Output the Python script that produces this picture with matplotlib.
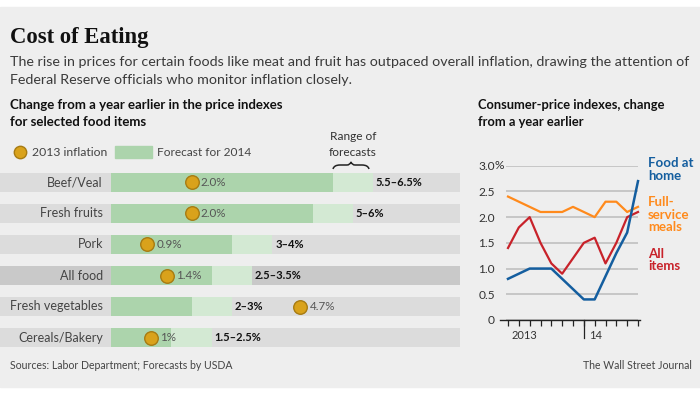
import numpy as np
import matplotlib
matplotlib.use('Agg')
import matplotlib.pyplot as plt
from matplotlib.patches import Rectangle
from matplotlib.path import Path
from matplotlib.patches import PathPatch

plt.rcParams['font.family'] = ['Lato', 'DejaVu Sans']

# left panel data
foods = ['Beef/Veal', 'Fresh fruits', 'Pork', 'All food', 'Fresh vegetables', 'Cereals/Bakery']
inflation_2013 = [2.0, 2.0, 0.9, 1.4, 4.7, 1.0]
inflation_labels = ['2.0%', '2.0%', '0.9%', '1.4%', '4.7%', '1%']
forecast_low = [5.5, 5.0, 3.0, 2.5, 2.0, 1.5]
forecast_high = [6.5, 6.0, 4.0, 3.5, 3.0, 2.5]
range_labels = ['5.5\u20136.5%', '5\u20136%', '3\u20134%', '2.5\u20133.5%', '2\u20133%', '1.5\u20132.5%']

# right panel data, monthly, May 2013 .. May 2014
food_at_home = [0.8, 0.9, 1.0, 1.0, 1.0, 0.8, 0.6, 0.4, 0.4, 0.85, 1.3, 1.7, 2.7]
full_service = [2.4, 2.3, 2.2, 2.1, 2.1, 2.1, 2.2, 2.1, 2.0, 2.3, 2.3, 2.1, 2.2]
all_items = [1.4, 1.8, 2.0, 1.5, 1.1, 0.9, 1.2, 1.5, 1.6, 1.1, 1.5, 2.0, 2.1]
y_ticks = [0, 0.5, 1.0, 1.5, 2.0, 2.5, 3.0]
y_tick_labels = ['0', '0.5', '1.0', '1.5', '2.0', '2.5', '3.0']

W, H = 700, 394
DARK_GREEN = '#acd4ac'
LIGHT_GREEN = '#d3e9d3'
GOLD = '#d9a21b'
GOLD_EDGE = '#a77b12'
BLUE = '#145e9f'
ORANGE = '#ff8a1c'
RED = '#c8222a'


def fx(x):
    return x / W


def fy(y):
    return 1 - y / H


fig = plt.figure(figsize=(7, 3.94), dpi=100)
fig.patch.set_facecolor('white')

# pixel canvas for background and free text
canvas = fig.add_axes([0, 0, 1, 1])
canvas.set_xlim(0, W)
canvas.set_ylim(H, 0)
canvas.axis('off')
canvas.add_patch(Rectangle((0, 7), W, 380, color='#eeeeee', zorder=0))

canvas.text(10, 43, 'Cost of Eating', family='Liberation Serif', weight='bold',
            fontsize=16.3, va='baseline', color='#111111')
canvas.text(10, 66, 'The rise in prices for certain foods like meat and fruit has outpaced overall '
            'inflation, drawing the attention of', fontsize=10.3, va='baseline', color='#3a3a3a')
canvas.text(10, 84, 'Federal Reserve officials who monitor inflation closely.',
            fontsize=10.3, va='baseline', color='#3a3a3a')
canvas.text(10, 109, 'Change from a year earlier in the price indexes', fontsize=9.5,
            weight='bold', va='baseline', color='#111111')
canvas.text(10, 126, 'for selected food items', fontsize=9.5, weight='bold',
            va='baseline', color='#111111')
canvas.text(478, 109, 'Consumer-price indexes, change', fontsize=9.3, weight='bold',
            va='baseline', color='#111111')
canvas.text(478, 126, 'from a year earlier', fontsize=9.3, weight='bold',
            va='baseline', color='#111111')

# legend
canvas.scatter([20], [152], s=80, color=GOLD, edgecolor=GOLD_EDGE, linewidth=1, zorder=3)
canvas.text(32, 152, '2013 inflation', fontsize=8.8, va='center', color='#444444')
canvas.add_patch(Rectangle((115, 146), 37, 12, color=DARK_GREEN))
canvas.text(157, 152, 'Forecast for 2014', fontsize=8.6, va='center', color='#444444')
canvas.text(353, 156, 'Range of\nforecasts', fontsize=8.6, ha='center', va='baseline',
            color='#333333', linespacing=1.55)
brace = Path([(333, 169), (334, 165), (340, 165), (347, 165), (350, 165), (351, 162),
              (352, 165), (355, 165), (362, 165), (368, 165), (369, 169)],
             [Path.MOVETO, Path.CURVE3, Path.CURVE3, Path.LINETO, Path.CURVE3, Path.CURVE3,
              Path.CURVE3, Path.CURVE3, Path.LINETO, Path.CURVE3, Path.CURVE3])
canvas.add_patch(PathPatch(brace, fill=False, lw=1.1, color='#222222'))

canvas.text(10, 369, 'Sources: Labor Department; Forecasts by USDA', fontsize=7.6,
            va='baseline', color='#444444')
canvas.text(692, 369, 'The Wall Street Journal', fontsize=7.6, ha='right',
            va='baseline', color='#444444')

# left panel: bars
px_per_pct = 40.3
ax1 = fig.add_axes([0, fy(353), fx(460), 186 / H])
x_min, x_max = -111 / px_per_pct, 349 / px_per_pct
ax1.set_xlim(x_min, x_max)
ax1.set_ylim(5.5, -0.5)
ax1.axis('off')
ax1.patch.set_alpha(0)

rows = np.arange(len(foods))
band_colors = ['#c9c9c9' if f == 'All food' else '#dcdcdc' for f in foods]
ax1.barh(rows, x_max - x_min, left=x_min, height=0.6, color=band_colors, zorder=1)
ax1.barh(rows, forecast_low, left=0, height=0.6, color=DARK_GREEN, zorder=2)
ax1.barh(rows, np.array(forecast_high) - np.array(forecast_low), left=forecast_low,
         height=0.6, color=LIGHT_GREEN, zorder=2)
ax1.scatter(inflation_2013, rows, s=95, color=GOLD, edgecolor=GOLD_EDGE, linewidth=1, zorder=4)

for i in rows:
    ax1.annotate(foods[i], (0, i), xytext=(-8, 0), textcoords='offset pixels',
                 ha='right', va='center', fontsize=9, color='#444444')
    ax1.annotate(inflation_labels[i], (inflation_2013[i], i), xytext=(9, 0),
                 textcoords='offset pixels', ha='left', va='center', fontsize=8.4,
                 color='#555555', zorder=5)
    ax1.annotate(range_labels[i], (forecast_high[i], i), xytext=(3, 0),
                 textcoords='offset pixels', ha='left', va='center', fontsize=8,
                 weight='bold', color='#111111')

# right panel: lines
months = np.arange(len(all_items))
ax2 = fig.add_axes([fx(506), fy(320), 132 / W, 154.3 / H])
ax2.patch.set_alpha(0)
ax2.set_xlim(-0.185, 12.0)
ax2.set_ylim(0, 3.0)
for s in ax2.spines.values():
    s.set_visible(False)
ax2.set_yticks(y_ticks, y_tick_labels)
ax2.tick_params(axis='y', length=0, pad=8, labelsize=8.6, labelcolor='#333333')
ax2.yaxis.grid(True, color='#c6c6c6', lw=1.4)
ax2.set_axisbelow(True)
ax2.text(-0.185 - 11 / 10.83, 3.0, '%', ha='left', va='center',
         fontsize=8.6, color='#333333', clip_on=False)
ax2.set_xticks(months, [''] * len(months))
ax2.tick_params(axis='x', direction='out', length=4, width=0.9, color='#222222', pad=0)
ax2.plot([-0.185 - 6 / 10.83, 12.15], [0, 0], color='#222222', lw=1, clip_on=False, zorder=3)
ax2.plot([7, 7], [0, -0.35], color='#222222', lw=0.9, clip_on=False)
ax2.text(1.55, -0.31, '2013', ha='center', va='center', fontsize=8, color='#333333')
ax2.text(7.45, -0.31, '14', ha='left', va='center', fontsize=8, color='#333333')

ax2.plot(months, full_service, color=ORANGE, lw=1.6, clip_on=False, zorder=4)
ax2.plot(months, all_items, color=RED, lw=1.6, clip_on=False, zorder=5)
ax2.plot(months, food_at_home, color=BLUE, lw=1.8, clip_on=False, zorder=6)

canvas.text(648, 157, 'Food at\nhome', fontsize=9.5, weight='bold', color=BLUE,
            va='top', linespacing=1.05)
canvas.text(648, 196, 'Full-\nservice\nmeals', fontsize=9.5, weight='bold', color=ORANGE,
            va='top', linespacing=1.05)
canvas.text(648, 248, 'All\nitems', fontsize=9.5, weight='bold', color=RED,
            va='top', linespacing=1.05)

fig.savefig('out.png', dpi=100)
